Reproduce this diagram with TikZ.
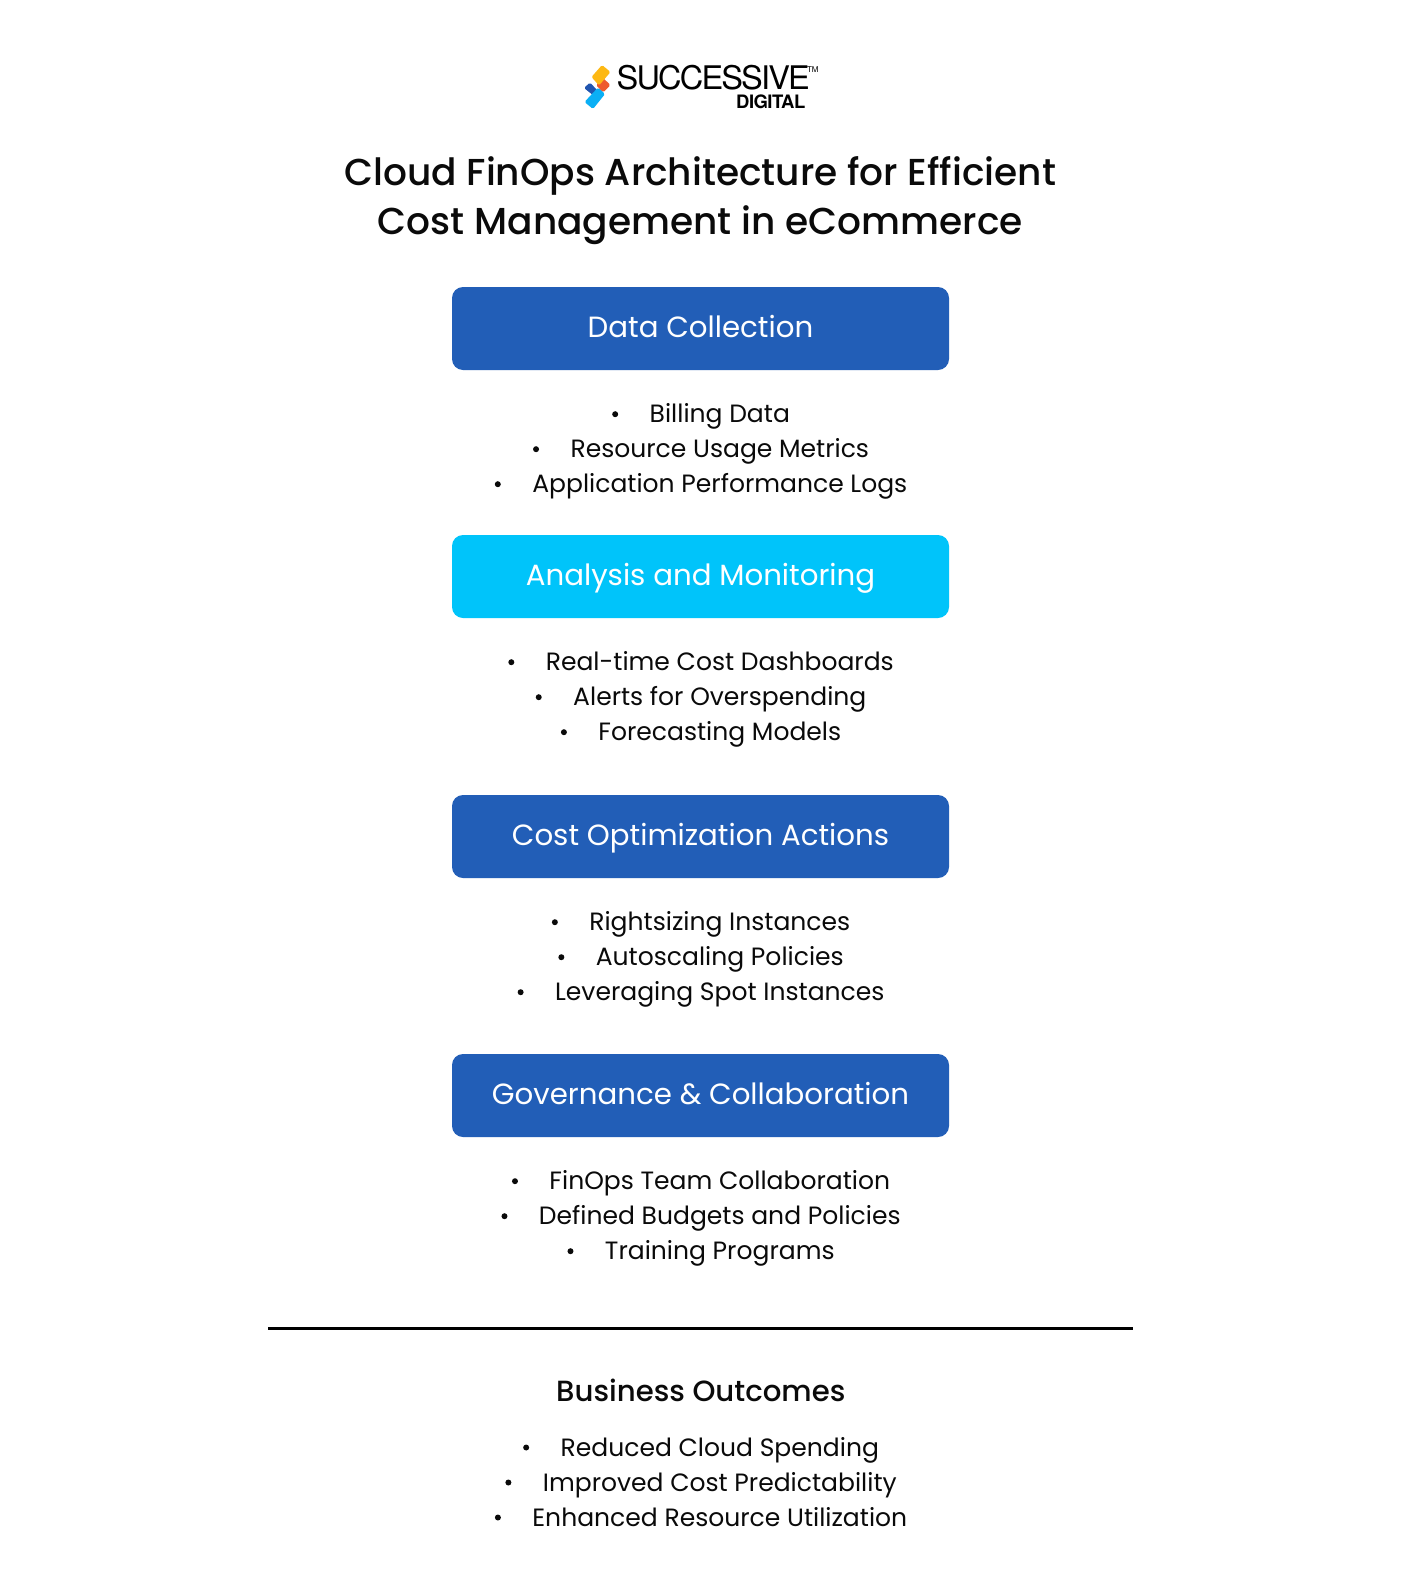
\documentclass[tikz,border=0pt]{standalone}
\usepackage{fontspec}
\setmainfont{Poppins}
\newfontfamily\pmed{Poppins Medium}
\newfontfamily\logof{TeX Gyre Heros}
\definecolor{boxblue}{HTML}{225EB7}
\definecolor{boxcyan}{HTML}{00C4FA}
\definecolor{ink}{HTML}{0A0A0A}
\definecolor{lgyellow}{RGB}{253,184,19}
\definecolor{lgred}{RGB}{238,90,45}
\definecolor{lgblue}{RGB}{33,85,175}
\definecolor{lgcyan}{RGB}{10,175,245}
\tikzset{
  x=1pt,y=-1pt,
  hbox/.style={fill=boxblue,rounded corners=11pt,draw=none,minimum width=497pt,minimum height=83pt,inner sep=0pt,text=white,text height=22pt,text depth=4.4pt,font=\fontsize{29.25}{30}\selectfont},
  hboxc/.style={hbox,fill=boxcyan},
  item/.style={anchor=base,inner sep=0pt,text=ink,font=\fontsize{25.03}{30}\selectfont},
  bul/.style={circle,fill=ink,draw=none,minimum size=6pt,inner sep=0pt},
  ttl/.style={anchor=base,inner sep=0pt,text=ink,font=\pmed\fontsize{37.5}{40}\selectfont},
  head/.style={anchor=base,inner sep=0pt,text=ink,font=\pmed\fontsize{29.2}{30}\selectfont},
  rulel/.style={line width=3pt,draw=black},
  logot/.style={anchor=base west,inner sep=0pt,text=black},
  lgshape/.style={rounded corners=1.5pt}
}
\newcommand{\itm}[3]{%
  \node[item] (#1) at (719.8,#2) {#3};
  \path (#1.base west) ++(-34.3,-8.5) node[bul] (#1b) {};
}
\begin{document}
\begin{tikzpicture}
\useasboundingbox (0,0) rectangle (1400,1579);
\fill[white] (0,0) rectangle (1400,1579);
% logo
\fill[lgshape,lgred] (603,78) -- (610.5,85) -- (603,92.5) -- (596,85) -- cycle;
\fill[lgshape,lgyellow] (602,65) -- (610.5,72) -- (599,85.5) -- (591.5,77) -- cycle;
\fill[lgshape,lgblue] (590,82.5) -- (597,90) -- (594,96) -- (584,88) -- cycle;
\fill[lgshape,lgcyan] (598,87.5) -- (605,94) -- (593,109) -- (584.5,102) -- cycle;
\node[logot,font=\logof\fontsize{32.5}{33}\selectfont] (lg1) at (616.5,89) {\addfontfeature{LetterSpace=-5.6}SUCCESSIVE};
\node[logot,font=\logof\fontsize{8}{8}\selectfont] (lg2) at (807,72.5) {\addfontfeature{LetterSpace=-3}TM};
\node[logot,font=\logof\bfseries\fontsize{18.5}{18}\selectfont] (lg3) at (736,108) {\addfontfeature{LetterSpace=-3}DIGITAL};
% title
\node[ttl] (t1) at (700.3,185) {Cloud FinOps Architecture for Efficient};
\node[ttl] (t2) at (700.3,234) {Cost Management in eCommerce};
% boxes
\node[hbox] (b1) at (700.5,328.5) {Data Collection};
\node[hboxc] (b2) at (700.5,576.5) {Analysis and Monitoring};
\node[hbox] (b3) at (700.5,836.5) {Cost Optimization Actions};
\node[hbox] (b4) at (700.5,1095.5) {Governance \& Collaboration};
% lists
\itm{a1}{422.7}{Billing Data}
\itm{a2}{457.7}{Resource Usage Metrics}
\itm{a3}{492.7}{Application Performance Logs}
\itm{c1}{670.7}{Real-time Cost Dashboards}
\itm{c2}{705.7}{Alerts for Overspending}
\itm{c3}{740.7}{Forecasting Models}
\itm{d1}{930.7}{Rightsizing Instances}
\itm{d2}{965.7}{Autoscaling Policies}
\itm{d3}{1000.7}{Leveraging Spot Instances}
\itm{e1}{1189.7}{FinOps Team Collaboration}
\itm{e2}{1224.7}{Defined Budgets and Policies}
\itm{e3}{1259.7}{Training Programs}
\coordinate (rl) at (268,1328.5);
\coordinate (rr) at (1133,1328.5);
\draw[rulel] (rl) -- (rr);
\node[head] (h) at (700.8,1401) {Business Outcomes};
\itm{f1}{1456}{Reduced Cloud Spending}
\itm{f2}{1491}{Improved Cost Predictability}
\itm{f3}{1526}{Enhanced Resource Utilization}
\end{tikzpicture}
\end{document}
